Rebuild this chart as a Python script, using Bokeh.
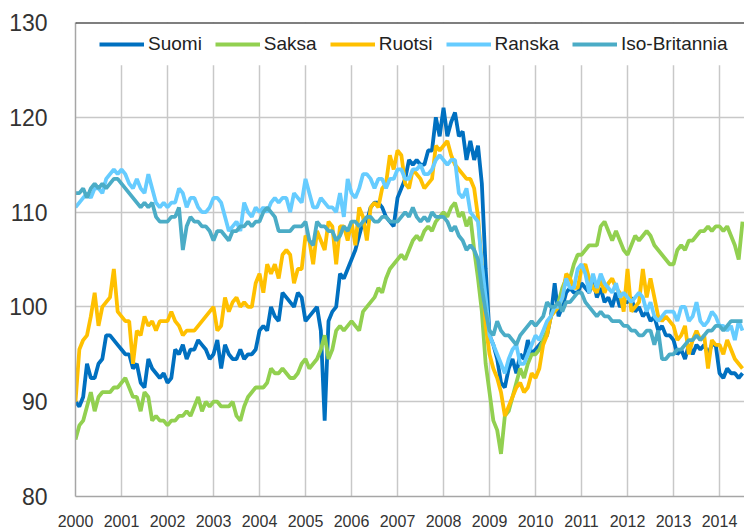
import numpy as np
from bokeh.plotting import figure
from bokeh.models import FixedTicker, Legend, LegendItem, BoxAnnotation, Span
from bokeh.embed import file_html
from bokeh.resources import INLINE

start_year = 2000
years = list(range(2000, 2015))
y_ticks = [80, 90, 100, 110, 120, 130]
series_names = ["Suomi", "Saksa", "Ruotsi", "Ranska", "Iso-Britannia"]
series_colors = ["#0070C0", "#92D050", "#FFC000", "#66CCFF", "#4BACC6"]

suomi = [
    90, 89.5, 90.5, 94, 92.5, 92.5, 94, 94.5, 97, 97, 96.5, 96,
    95.5, 95, 95, 93.5, 94, 92, 91.5, 94.5, 93.5, 93, 92.5, 93,
    92, 92.5, 95.5, 95, 96, 94.5, 95.5, 95.5, 96.5, 96, 95.5, 94.5,
    95, 96.5, 93.5, 96, 95, 94.5, 94.5, 95.5, 94.5, 95, 95, 95.5,
    97.5, 98, 97.5, 100, 99, 98.5, 101.5, 101, 100.5, 100, 101.5, 101,
    98.5, 99, 99.5, 100, 97.5, 88, 98.5, 99.5, 100, 103.5, 103, 104,
    105, 106, 107.5, 109, 109, 110.5, 111, 111, 110.5, 109.5, 109, 108.5,
    111.5, 112.5, 113.5, 115.5, 115, 115.5, 115, 115, 116.5, 116.5, 120, 118,
    121, 118, 119.5, 120.5, 118, 118.5, 115.5, 117.5, 115.5, 117, 113, 104,
    97, 96, 94.5, 92, 91.5, 93.5, 94.5, 93, 95, 94.5, 96.5, 95,
    95.5, 96, 96.5, 97, 99, 102.5, 99, 100, 101.5, 102, 101.5, 101.5,
    102.5, 102, 101.5, 103, 101, 102, 100.5, 101, 100, 101.5, 100, 100.5,
    100.5, 101, 99.5, 100, 99, 99.5, 98.5, 99, 97.5, 98, 97, 97,
    96.5, 95, 95.5, 94.5, 96, 95, 96, 95.5, 96, 95, 96, 96,
    93, 92.5, 93.5, 93, 93, 92.5, 93,
]
saksa = [
    86, 87.5, 88, 89.5, 91, 89, 90.5, 91, 91, 91, 91.5, 91.5,
    92, 92.5, 91.5, 90.5, 90.5, 89, 91, 90.5, 88, 88.5, 88, 88,
    87.5, 88, 88, 88.5, 88.5, 89, 88.5, 89.5, 90.5, 89, 90, 89.5,
    90, 90, 89.5, 89.5, 89.5, 90, 88.5, 88, 89.5, 90.5, 91, 91.5,
    91.5, 91.5, 92, 93.5, 93, 93, 93.5, 93, 92.5, 92.5, 93, 94,
    94.5, 93.5, 94, 94.5, 95.5, 97, 94.5, 95.5, 97.5, 98, 97.5, 98,
    98.5, 98, 97.5, 99.5, 100, 100.5, 101, 102, 101.5, 103, 104, 104.5,
    105, 105.5, 105, 106, 107, 107.5, 107, 108, 108.5, 108, 109, 109.5,
    110, 109.5, 110.5, 111, 109.5, 110, 108.5, 109.5, 106, 103, 99.5, 94,
    91, 88, 87, 84.5, 88.5, 89, 90.5, 92, 93.5, 92.5, 94, 95,
    95, 95.5, 96.5, 97.5, 99, 100, 100.5, 102, 103, 103, 104.5, 105.5,
    105.5, 106, 106.5, 106.5, 106.5, 108.5, 109, 108, 107, 108, 107, 106,
    105.5, 106.5, 107.5, 107, 107.5, 108, 107.5, 106.5, 106, 105.5, 105, 104.5,
    104.5, 106, 106.5, 106, 107, 107, 107.5, 108, 108, 108.5, 108, 108.5,
    108.5, 108, 108.5, 107.5, 106.5, 105, 109,
]
ruotsi = [
    90, 95.5, 96.5, 97, 99, 101.5, 98, 100, 100.5, 101, 104, 99.5,
    99, 98.5, 98.5, 94, 97.5, 97, 99, 98, 98.5, 97.5, 98.5, 98.5,
    98.5, 99.5, 98.5, 98, 97, 97.5, 97.5, 97.5, 98, 98.5, 99, 99.5,
    100, 97.5, 98, 101, 99.5, 100.5, 101, 100, 100.5, 100, 100, 102.5,
    103.5, 101.5, 104.5, 103.5, 104.5, 103, 105.5, 106, 105.5, 102.5, 104, 104,
    107.5, 107, 104.5, 108, 107, 106, 109, 108.5, 104.5, 108.5, 108.5, 107,
    109, 106.5, 110.5, 109.5, 107, 110.5, 111, 110.5, 112.5, 113, 116, 114.5,
    116.5, 116, 113, 112.5, 114.5, 114, 113.5, 112.5, 113, 113.5, 117, 116.5,
    117, 117.5, 116, 115, 114.5, 114, 113.5, 113.5, 112.5, 109.5, 104.5, 98,
    95, 93.5, 92.5, 91, 88.5, 89.5, 90.5, 91.5, 92, 91, 91.5, 93,
    92.5, 93.5, 96, 97, 99, 99.5, 100, 101, 103.5, 103, 102, 102,
    104, 104.5, 103, 102, 101.5, 103, 101.5, 102.5, 103, 102, 101.5, 99.5,
    104, 99.5, 100, 100.5, 104, 101, 103, 101, 99, 98.5, 99, 98.5,
    98, 96.5, 97, 98, 95, 96.5, 97.5, 96.5, 97, 93.5, 96.5, 96,
    96, 95, 96.5, 95.5, 94.5, 94, 93.5,
]
ranska = [
    110.5, 111, 111.5, 112, 111.5, 112.5, 112.5, 112, 113.5, 114, 114.5, 114,
    114.5, 114, 113, 112.5, 113.5, 112.5, 112, 114, 112.5, 111, 110.5, 111,
    110.5, 111, 111, 112.5, 112, 110.5, 111.5, 111.5, 110.5, 110, 110, 110.5,
    111.5, 111.5, 111, 109.5, 108, 108.5, 109, 108, 111, 110, 109.5, 110.5,
    110, 110.5, 110, 111, 111.5, 111, 111.5, 111.5, 110, 112, 111.5, 111,
    113.5, 112, 110.5, 110.5, 111.5, 111, 110.5, 110.5, 110, 112, 109.5, 113.5,
    112, 111.5, 112.5, 114, 114, 113.5, 112.5, 113.5, 113.5, 112.5, 113.5, 113.5,
    114.5, 114.5, 113.5, 113.5, 114.5, 114.5, 115, 114, 114, 114.5, 115.5, 116,
    115.5, 115, 115.5, 115.5, 112, 111.5, 112.5, 110, 109.5, 109, 104.5, 101,
    97, 96, 95, 94, 93, 94.5, 95.5, 96, 94, 94, 95, 96,
    97, 96.5, 97.5, 98.5, 99, 100, 100, 101, 103, 102, 102, 104,
    104.5, 103.5, 101.5, 103.5, 102, 103.5, 102.5, 102, 101.5, 102.5, 101, 101.5,
    101, 100.5, 101, 101.5, 101, 99.5, 100.5, 99, 98.5, 99, 99.5, 99.5,
    99.5, 98.5, 100, 100, 98.5, 99, 100.5, 98.5, 98, 98.5, 99.5, 99,
    98, 98, 97.5, 98, 96.5, 98.5, 97.5,
]
iso_britannia = [
    112, 112, 112.5, 111.5, 112.5, 113, 112.5, 113, 112.5, 113, 113.5, 113.5,
    113, 112.5, 112, 111.5, 111, 110.5, 111, 110.5, 111, 109.5, 109, 109,
    109, 109.5, 109.5, 110.5, 106, 108.5, 109.5, 109, 109, 108.5, 108.5, 108,
    107, 108, 108, 107.5, 107, 108, 108, 108.5, 108.5, 109, 108.5, 109,
    109, 110, 110.5, 110, 109.5, 108, 108, 108, 108, 108.5, 108.5, 108.5,
    109, 107, 106.5, 109, 108.5, 108.5, 108, 108, 107, 107.5, 108.5, 108,
    109, 109, 108.5, 109, 109.5, 109.5, 109, 109, 109.5, 109.5, 109, 109,
    109, 109.5, 110, 109.5, 110.5, 109.5, 109, 109.5, 109, 110, 109.5, 109.5,
    109.5, 109, 108, 108.5, 107.5, 107, 106, 106.5, 106, 105, 102, 99.5,
    97.5, 97, 98.5, 97.5, 97, 97, 96.5, 96, 97, 97.5, 98, 98.5,
    98, 98.5, 99, 100.5, 100, 100, 100.5, 99.5, 100.5, 100.5, 101, 101.5,
    101.5, 100.5, 100, 99.5, 99, 99.5, 99, 99, 98.5, 98.5, 98.5, 98,
    98, 97.5, 97.5, 97, 97, 97.5, 97.5, 96, 97.5, 94.5, 94.5, 95,
    95, 95.5, 95.5, 96, 96.5, 96.5, 97, 96.5, 97, 97.5, 97.5, 98,
    98, 97.5, 98, 98.5, 98.5, 98.5, 98.5,
]

all_series = [suomi, saksa, ruotsi, ranska, iso_britannia]
x = start_year + np.arange(len(suomi)) / 12.0

FONT = "Liberation Sans"
TEXT = "#333333"

p = figure(width=744, height=529, x_range=(2000, 2014.543), y_range=(80, 130),
           output_backend="svg", toolbar_location=None,
           min_border_left=75, min_border_right=0, min_border_top=22, min_border_bottom=30)
p.outline_line_color = None
p.background_fill_color = "white"

p.xaxis.ticker = FixedTicker(ticks=years)
p.xaxis.major_label_overrides = {y: str(y) for y in years}
p.yaxis.ticker = FixedTicker(ticks=y_ticks)
for ax in (p.xaxis, p.yaxis):
    ax.axis_line_color = "#a6a6a6"
    ax.axis_line_width = 1.5
    ax.major_tick_line_color = None
    ax.minor_tick_line_color = None
    ax.major_label_text_font = FONT
    ax.major_label_text_color = TEXT
p.xaxis.major_label_text_font_size = "16px"
p.xaxis.major_label_standoff = 12
p.yaxis.major_label_text_font_size = "23px"
p.yaxis.major_label_standoff = 22

p.xgrid.ticker = FixedTicker(ticks=years)
p.ygrid.ticker = FixedTicker(ticks=y_ticks)
for g in (p.xgrid, p.ygrid):
    g.grid_line_color = "#c8c8c8"
    g.grid_line_width = 1.5

# white band behind the legend (gridlines stop below it)
p.add_layout(BoxAnnotation(bottom=125.5, top=130, fill_color="white", fill_alpha=1,
                           line_color=None, level="glyph"))

renderers = []
for name, vals, col in zip(series_names, all_series, series_colors):
    r = p.line(x, vals, line_color=col, line_width=3.8)
    renderers.append(r)

p.add_layout(Span(location=130, dimension="width", line_color="#000000", line_width=2))

legend = Legend(items=[LegendItem(label=n, renderers=[r]) for n, r in zip(series_names, renderers)],
                orientation="horizontal", location=(24, 441),
                label_text_font=FONT, label_text_font_size="19px", label_text_color="#222222",
                glyph_width=45, glyph_height=22, label_height=22, label_standoff=4,
                spacing=13, padding=0, margin=0, border_line_color=None,
                background_fill_alpha=0)
p.add_layout(legend)

open("out.html", "w").write(file_html(p, INLINE))
